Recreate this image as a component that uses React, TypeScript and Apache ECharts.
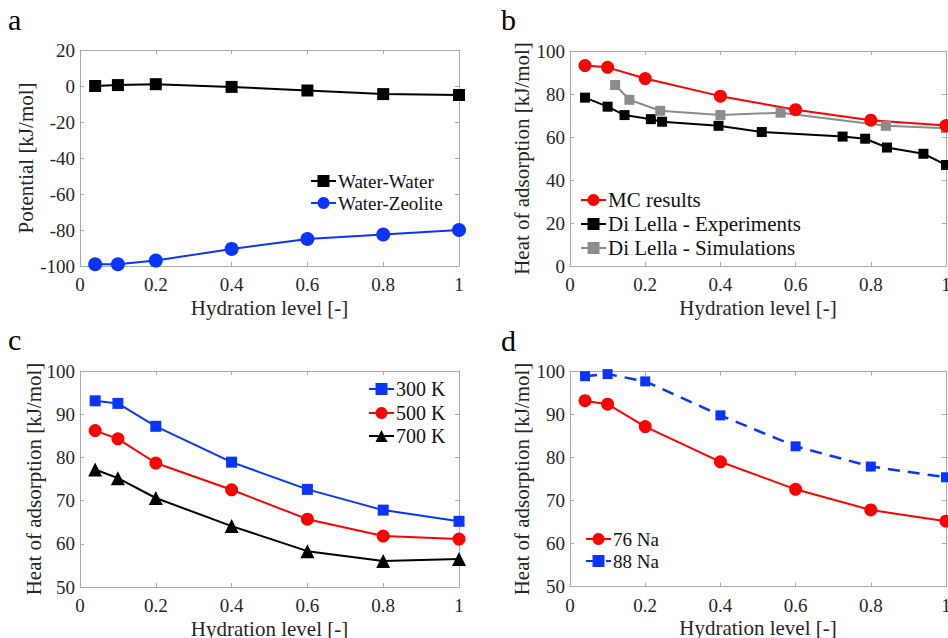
import React, { useEffect, useRef } from "react";
import * as echarts from "echarts";

// ---------- data ----------
const hydration = [0.04, 0.1, 0.2, 0.4, 0.6, 0.8, 1.0];
const waterWater = [0, 0.5, 1, -0.5, -2.5, -4.5, -5];
const waterZeolite = [-99, -99, -97, -90.5, -85, -82.5, -80];

const mcResults = [93.2, 92.4, 87.2, 79.0, 72.7, 67.8, 65.3];
const expX = [0.04, 0.1, 0.145, 0.215, 0.245, 0.395, 0.51, 0.725, 0.785, 0.843, 0.94, 1.0];
const expY = [78.3, 74.1, 70.2, 68.3, 67.1, 65.2, 62.3, 60.2, 59.2, 55.1, 52.2, 47.0];
const simX = [0.12, 0.158, 0.24, 0.4, 0.56, 0.84, 1.0];
const simY = [84.2, 77.3, 72.2, 70.2, 71.3, 65.2, 64.1];

const k300 = [93.1, 92.5, 87.2, 78.9, 72.6, 67.8, 65.2];
const k500 = [86.2, 84.3, 78.7, 72.5, 65.7, 61.8, 61.1];
const k700 = [77.2, 75.2, 70.6, 64.1, 58.3, 56.0, 56.5];

const na76 = [93.2, 92.4, 87.2, 79.0, 72.6, 67.8, 65.2];
const na88 = [98.9, 99.4, 97.7, 89.8, 82.6, 77.9, 75.4];

// ---------- texts / ticks ----------
const panelLetters = ["a", "b", "c", "d"];
const xTitle = "Hydration level [-]";
const yTitles = ["Potential [kJ/mol]", "Heat of adsorption [kJ/mol]", "Heat of adsorption [kJ/mol]", "Heat of adsorption [kJ/mol]"];
const xTickLabels = [0, 0.2, 0.4, 0.6, 0.8, 1];
const yTickLabels = [
  [-100, -80, -60, -40, -20, 0, 20],
  [0, 20, 40, 60, 80, 100],
  [50, 60, 70, 80, 90, 100],
  [50, 60, 70, 80, 90, 100],
];
const legendNames = [
  ["Water-Water", "Water-Zeolite"],
  ["MC results", "Di Lella - Experiments", "Di Lella - Simulations"],
  ["300 K", "500 K", "700 K"],
  ["76 Na", "88 Na"],
];

// ---------- layout / styles ----------
const FONT = "Liberation Serif";
const AXIS_COLOR = "#a9a9a9";
const TEXT = "#262626";
const BLUE = "#0a35ff";
const RED = "#ff0000";
const GRAY = "#8c8c8c";
const BLACK = "#000000";

const gridBoxes = [
  { left: 80, top: 50, width: 379, height: 216 },
  { left: 570, top: 51, width: 376, height: 215 },
  { left: 80, top: 371, width: 379, height: 216 },
  { left: 570, top: 371.5, width: 376, height: 215 },
];
const yTitleX = [36, 532, 44, 532];
const legendLeft = [310, 580, 368, 585];
const legendRows = [
  [181, 203],
  [200, 224, 248],
  [389, 413, 436],
  [539, 561],
];
const legendFont = [19, 21, 20, 19];
const letterPos = [
  [8, 4],
  [501, 4],
  [8, 324],
  [501, 325],
];

const zip = (xs: number[], ys: number[]) => xs.map((x, i) => [x, ys[i]]);

function makeX(g: number, position: string) {
  return {
    type: "value",
    gridIndex: g,
    position,
    min: 0,
    max: 1,
    interval: 0.2,
    axisLine: { show: true, onZero: false, lineStyle: { color: AXIS_COLOR, width: 1 } },
    axisTick: { show: true, inside: true, length: 4, lineStyle: { color: AXIS_COLOR, width: 1 } },
    axisLabel: { show: false },
    splitLine: { show: false },
  };
}

function makeY(g: number, position: string) {
  const t = yTickLabels[g];
  return {
    type: "value",
    gridIndex: g,
    position,
    min: t[0],
    max: t[t.length - 1],
    interval: t[1] - t[0],
    axisLine: { show: true, onZero: false, lineStyle: { color: AXIS_COLOR, width: 1 } },
    axisTick: { show: true, inside: true, length: 4, lineStyle: { color: AXIS_COLOR, width: 1 } },
    axisLabel: { show: false },
    splitLine: { show: false },
  };
}

function makeLine(
  name: string,
  g: number,
  data: number[][],
  color: string,
  symbol: string,
  symbolSize: number,
  lineType: any = "solid",
  width = 2
) {
  return {
    type: "line",
    name,
    xAxisIndex: g * 2,
    yAxisIndex: g * 2,
    data,
    symbol,
    symbolSize,
    clip: false,
    lineStyle: { color, width, type: lineType },
    itemStyle: { color, borderWidth: 0 },
  };
}

function txt(text: string, x: number, y: number, size: number, align: string, vAlign: string, fill = TEXT, rotation = 0) {
  return {
    type: "text",
    x,
    y,
    rotation,
    silent: true,
    style: { text, x: 0, y: 0, fill, fontFamily: FONT, fontSize: size, align, verticalAlign: vAlign },
  };
}

export default function App() {
  const ref = useRef<HTMLDivElement>(null);
  useEffect(() => {
    if (!ref.current) return;
    const chart = echarts.init(ref.current, null, { renderer: "svg" });
    const xAxes: any[] = [];
    const yAxes: any[] = [];
    for (let g = 0; g < 4; g++) {
      xAxes.push(makeX(g, "bottom"), makeX(g, "top"));
      yAxes.push(makeY(g, "left"), makeY(g, "right"));
    }
    const legends: any[] = [];
    legendNames.forEach((names, p) => {
      names.forEach((n, r) => {
        legends.push({
          data: [n],
          left: legendLeft[p],
          top: legendRows[p][r] - 7.5,
          padding: 0,
          itemWidth: 25,
          itemHeight: 15,
          selectedMode: false,
          formatter: () => "",
          textStyle: { fontSize: 1 },
        });
      });
    });
    const option: any = {
      animation: false,
      backgroundColor: "#ffffff",
      grid: gridBoxes.map((g) => ({ ...g, containLabel: false, outerBoundsMode: "none" })),
      xAxis: xAxes,
      yAxis: yAxes,
      legend: legends,
      series: [
        makeLine("Water-Water", 0, zip(hydration, waterWater), BLACK, "rect", 12),
        makeLine("Water-Zeolite", 0, zip(hydration, waterZeolite), BLUE, "circle", 14),
        makeLine("Di Lella - Experiments", 1, zip(expX, expY), BLACK, "rect", 10),
        makeLine("Di Lella - Simulations", 1, zip(simX, simY), GRAY, "rect", 10),
        makeLine("MC results", 1, zip(hydration, mcResults), RED, "circle", 13),
        makeLine("300 K", 2, zip(hydration, k300), BLUE, "rect", 11),
        makeLine("500 K", 2, zip(hydration, k500), RED, "circle", 13),
        makeLine("700 K", 2, zip(hydration, k700), BLACK, "triangle", 14),
        makeLine("76 Na", 3, zip(hydration, na76), RED, "circle", 13),
        makeLine("88 Na", 3, zip(hydration, na88), BLUE, "rect", 10, [12, 8], 2.5),
      ],
    };
    chart.setOption(option);

    // texts placed through the axes' own scales
    const texts: any[] = [];
    for (let p = 0; p < 4; p++) {
      const box = gridBoxes[p];
      const bottom = box.top + box.height;
      xTickLabels.forEach((v) => {
        const px = chart.convertToPixel({ xAxisIndex: p * 2 } as any, v) as number;
        texts.push(txt(String(v), px, bottom + 9, 19, "center", "top"));
      });
      yTickLabels[p].forEach((v) => {
        const py = chart.convertToPixel({ yAxisIndex: p * 2 } as any, v) as number;
        texts.push(txt(String(v), box.left - 5, py, 19, "right", "middle"));
      });
      texts.push(txt(xTitle, box.left + box.width / 2, bottom + 31, 21, "center", "top"));
      texts.push(txt(yTitles[p], yTitleX[p], box.top + box.height / 2, 21, "center", "bottom", TEXT, Math.PI / 2));
      legendNames[p].forEach((n, r) => {
        texts.push(txt(n, legendLeft[p] + 28, legendRows[p][r], legendFont[p], "left", "middle", "#111"));
      });
      texts.push(txt(panelLetters[p], letterPos[p][0], letterPos[p][1], 30, "left", "top", "#000"));
    }
    chart.setOption({ graphic: texts });
    return () => chart.dispose();
  }, []);
  return (
    <div
      ref={ref}
      style={{ position: "absolute", left: 0, top: 0, width: 948, height: 638, background: "#fff" }}
    />
  );
}
